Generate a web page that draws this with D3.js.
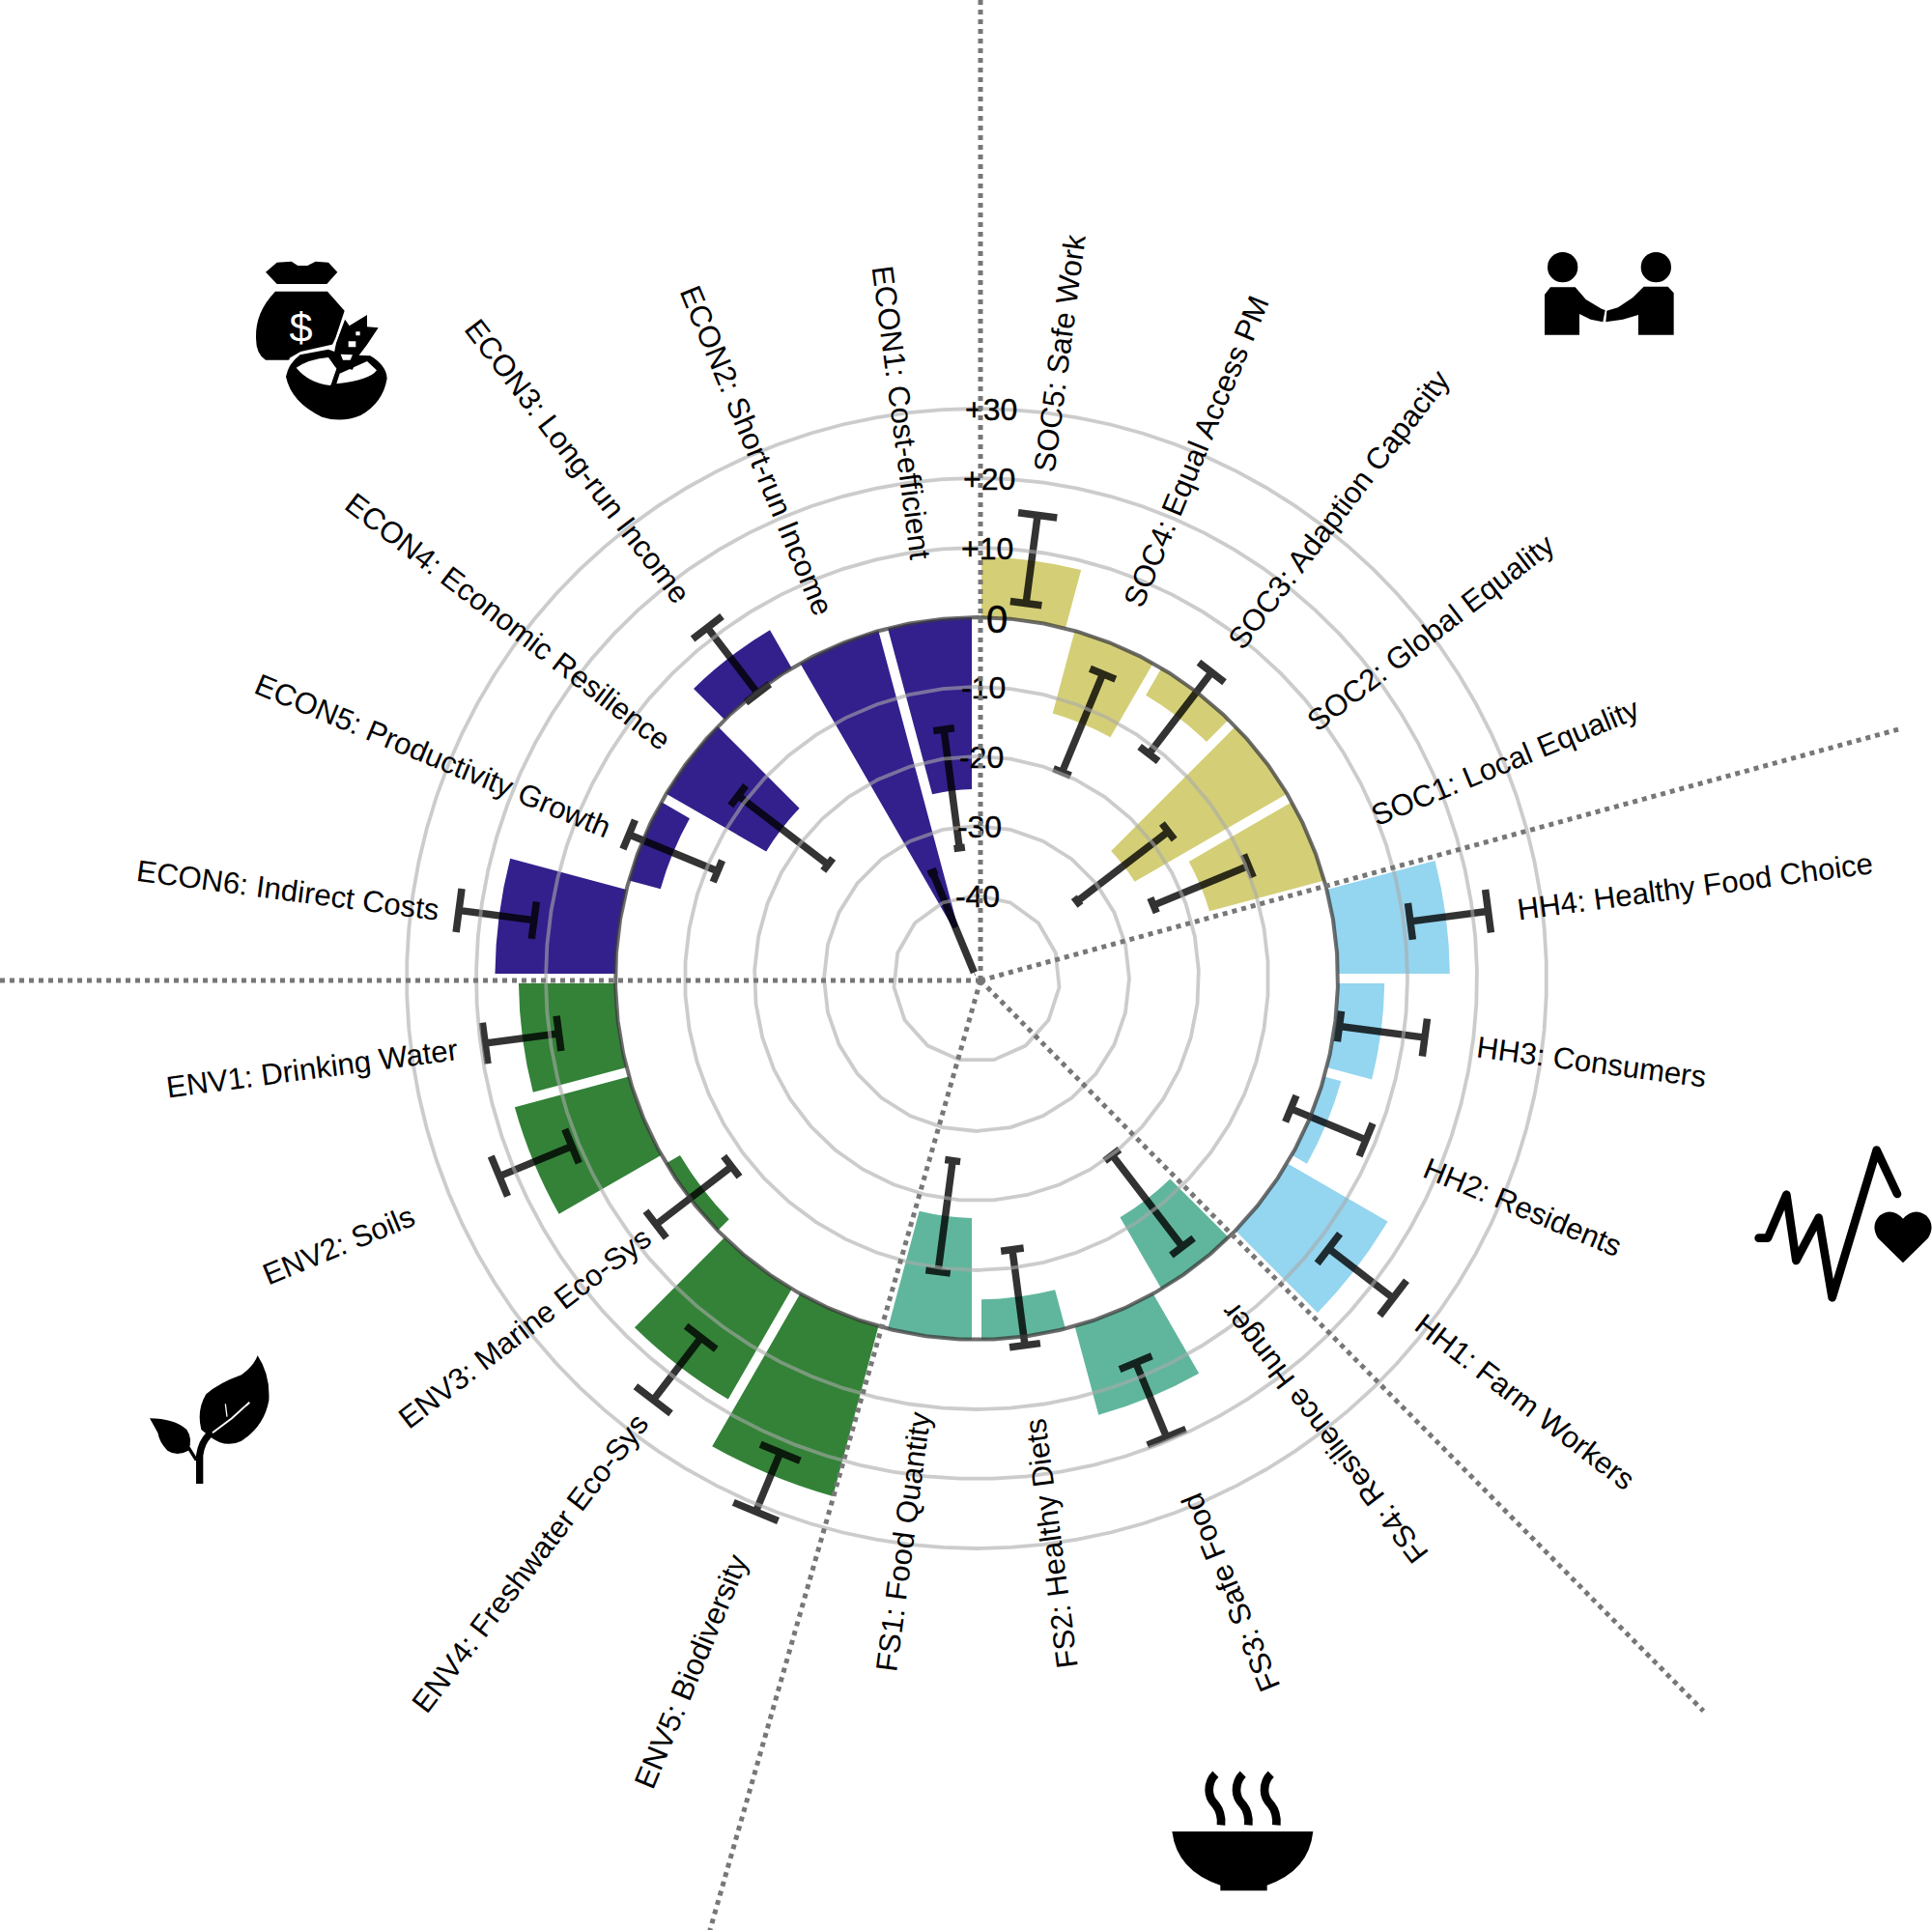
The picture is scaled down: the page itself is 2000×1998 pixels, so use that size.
<!DOCTYPE html>
<html>
  <head>
    <meta charset="utf-8">
    <title>Circular bar chart</title>
    <style>
      body { margin: 0; background: #fff; }
      text { font-family: "Liberation Sans", Arial, sans-serif; fill: #000; }
    </style>
  </head>
  <body>
    <div id="vis"></div>
    <script src="https://d3js.org/d3.v7.min.js"></script>
    <script>
    // clockwise from the top
    let categories = ["SOC5: Safe Work", "SOC4: Equal Access PM", "SOC3: Adaption Capacity", "SOC2: Global Equality", "SOC1: Local Equality",
      "HH4: Healthy Food Choice", "HH3: Consumers", "HH2: Residents", "HH1: Farm Workers",
      "FS4: Resilience Hunger", "FS3: Safe Food", "FS2: Healthy Diets", "FS1: Food Quantity",
      "ENV5: Biodiversity", "ENV4: Freshwater Eco-Sys", "ENV3: Marine Eco-Sys", "ENV2: Soils", "ENV1: Drinking Water",
      "ECON6: Indirect Costs", "ECON5: Productivity Growth", "ECON4: Economic Resilience", "ECON3: Long-run Income", "ECON2: Short-run Income", "ECON1: Cost-efficient"];
    let groups = ["SOC", "SOC", "SOC", "SOC", "SOC", "HH", "HH", "HH", "HH", "FS", "FS", "FS", "FS",
      "ENV", "ENV", "ENV", "ENV", "ENV", "ECON", "ECON", "ECON", "ECON", "ECON", "ECON"];
    let values = [8.7, -12.3, -4.5, -25.3, -17.1, 16.1, 6.7, 2.5, 16.7, -11.9, 13.2, -5.8, -17.5,
      25.3, 18.3, -2.3, 17, 13.9, 17.3, -4.7, -16.6, 6.3, -44, -24.7];
    let errLow = [2.5, -19.8, -11.2, -33.7, -24.4, 11, 0.7, -3, 11.9, -19.9, 7.9, -12.6, -25.5,
      21.9, 13.2, -7.5, 11.1, 8.7, 12.3, -11.6, -25, -0.2, -51, -33];
    let errHigh = [15.3, -4.5, 3.6, -17.2, -9.6, 22.3, 13.1, 8.7, 23.6, -3.3, 19.5, 1.3, -9.4,
      31.1, 24.5, 6.2, 22.4, 19.4, 23.2, 2.2, -8.7, 11.7, -35.4, -15.8];
    let tickValues = [-40, -30, -20, -10, 0, 10, 20, 30];
    let tickLabels = ["-40", "-30", "-20", "-10", "0", "+10", "+20", "+30"];
    let groupNames = ["SOC", "HH", "FS", "ENV", "ECON"];
    let groupColors = ["#d4cf77", "#94d5ef", "#60b69d", "#338238", "#33208c"];
    let dividerAngles = [0, 74.7, 135.3, 195.9, 270];
    let dividerLengths = [1015, 988, 1064, 1030, 1015];
    // where each category label sits, px from the centre
    let labelRadius = [655, 593, 615, 592, 592, 750, 642, 612, 716, 591, 686, 588, 586,
      774, 760, 590, 715, 694, 719, 609, 611, 678, 594, 593];

    let w = 2000, h = 1998;
    // the rings and the dividers do not share a centre in the original
    let cx = 1011, cy = 1013;
    let lx = 1015, ly = 1015;
    let step = 2 * Math.PI / categories.length;

    let r = d3.scaleLinear().domain([-50, 30]).range([14, 590]);
    let color = d3.scaleOrdinal().domain(groupNames).range(groupColors);

    let svg = d3.select("#vis").append("svg")
                .attr("width", w)
                .attr("height", h);
    let g = svg.append("g").attr("transform", "translate(" + cx + "," + cy + ")");
    let over = svg.append("g").attr("transform", "translate(" + lx + "," + ly + ")");
    let labels = svg.append("g").attr("transform", "translate(" + cx + "," + ly + ")");

    function rad(deg) { return deg * Math.PI / 180; }
    function polar(a, radius) { return [radius * Math.sin(a), -radius * Math.cos(a)]; }

    // bars, the gap stays the same width all the way in
    let arc = d3.arc()
      .innerRadius(function(d) { return r(Math.min(d.v, 0)); })
      .outerRadius(function(d) { return r(Math.max(d.v, 0)); })
      .startAngle(function(d) { return d.i * step; })
      .endAngle(function(d) { return (d.i + 1) * step; })
      .padAngle(0.02)
      .padRadius(500);

    let rows = values.map(function(v, i) { return { v: v, i: i, lo: errLow[i], hi: errHigh[i] }; });

    g.selectAll("path.bar").data(rows).enter().append("path")
      .attr("class", "bar")
      .attr("d", arc)
      .attr("fill", function(d) { return color(groups[d.i]); });

    // error bars
    let capHalf = rad(2.4);
    g.selectAll("path.err").data(rows).enter().append("path")
      .attr("class", "err")
      .attr("fill", "none")
      .attr("stroke", "#000")
      .attr("stroke-opacity", 0.8)
      .attr("stroke-width", 7.5)
      .attr("d", function(d) {
        let a = (d.i + 0.5) * step;
        let rl = r(d.lo), rh = r(d.hi);
        return "M" + polar(a, rl) + "L" + polar(a, rh)
          + "M" + polar(a - capHalf, rl) + "L" + polar(a + capHalf, rl)
          + "M" + polar(a - capHalf, rh) + "L" + polar(a + capHalf, rh);
      });

    // grid rings, sampled coarsely like the original so the small ones look polygonal
    let ringLine = d3.lineRadial().angle(function(d) { return d[0]; }).radius(function(d) { return d[1]; }).curve(d3.curveLinearClosed);
    g.selectAll("path.ring").data(tickValues).enter().append("path")
      .attr("class", "ring")
      .attr("fill", "none")
      .attr("stroke", function(d) { return d == 0 ? "#3c3c3c" : "#aaa"; })
      .attr("stroke-opacity", function(d) { return d == 0 ? 0.75 : 0.6; })
      .attr("stroke-width", function(d) { return d == 0 ? 4 : 3.8; })
      .attr("d", function(d) {
        let n = Math.round(2 * Math.PI * r(d) / 35);
        return ringLine(d3.range(n).map(function(k) { return [k * 2 * Math.PI / n, r(d)]; }));
      });

    // dotted sector lines
    over.selectAll("line.divider").data(dividerAngles).enter().append("line")
      .attr("class", "divider")
      .attr("x1", 0).attr("y1", 0)
      .attr("x2", function(d, i) { return polar(rad(d), dividerLengths[i])[0]; })
      .attr("y2", function(d, i) { return polar(rad(d), dividerLengths[i])[1]; })
      .attr("stroke", "#777")
      .attr("stroke-width", 5)
      .attr("stroke-dasharray", "5 5");

    // tick labels lean a little to the right going up
    g.selectAll("text.tick").data(tickValues).enter().append("text")
      .attr("class", "tick")
      .attr("text-anchor", "middle")
      .attr("dy", "0.36em")
      .attr("x", function(d) { return d == 0 ? 21 : 1 + 0.028 * (r(d) - 86); })
      .attr("y", function(d) { return -r(d) + (d == 0 ? 2 : 0); })
      .attr("font-size", function(d) { return d == 0 ? 40 : 32; })
      .style("stroke", "#000")
      .style("stroke-width", 0.4)
      .text(function(d, i) { return tickLabels[i]; });

    // category labels, read inward on the bottom and left half
    labels.selectAll("text.cat").data(categories).enter().append("text")
      .attr("class", "cat")
      .attr("text-anchor", "middle")
      .attr("dy", "0.36em")
      .attr("font-size", 31.2)
      .attr("transform", function(d, i) {
        let a = (i + 0.5) * step;
        let p = polar(a, labelRadius[i]);
        let deg = a * 180 / Math.PI - 90;
        if (i >= 9) deg += 180;
        return "translate(" + p[0] + "," + p[1] + ") rotate(" + deg + ")";
      })
      .text(function(d) { return d; });

    // icons, traced by hand at 3x
    let money = svg.append("g").attr("transform", "translate(240,250) scale(0.3333)");
    money.append("path").attr("d", "M105,95 L140,65 L185,62 L205,75 L235,75 L260,62 L300,65 L328,95 L295,132 L140,132 Z");
    money.append("path").attr("d", "M135,155 L297,155 L350,215 L322,300 L310,325 L215,345 L175,368 L105,368 Q75,350 75,300 Q72,220 135,155 Z");
    money.append("text").attr("x", 215).attr("y", 312).attr("text-anchor", "middle").attr("font-size", 130)
      .style("fill", "#fff").text("$");
    money.append("path").attr("d", "M168,420 Q175,380 212,352 L300,335 L345,352 L430,355 Q480,385 482,425 Q470,500 400,540 Q340,565 280,545 Q185,500 168,420 Z");
    money.append("path").attr("fill", "#fff").attr("d", "M200,392 Q240,365 300,360 L325,395 L305,447 Q240,440 200,392 Z M335,410 L420,372 L450,400 Q430,430 325,442 Z");
    money.append("path").attr("d", "M350,240 L365,262 L420,228 L420,265 L455,268 L420,320 L390,360 L375,398 L345,392 L318,345 L325,310 Z");
    money.append("path").attr("fill", "none").attr("stroke", "#fff").attr("stroke-width", 6)
      .attr("d", "M352,232 L318,322 L215,345 L180,365 M322,392 L305,445");
    money.append("path").attr("fill", "#fff").attr("d", "M385,280 L398,280 L398,292 L385,292 Z M362,310 L385,310 L385,328 L362,328 Z M338,350 L375,352 L368,368 L345,368 Z");

    let hands = svg.append("g").attr("transform", "translate(1580,240) scale(0.3333)");
    hands.append("circle").attr("cx", 113).attr("cy", 110).attr("r", 47);
    hands.append("circle").attr("cx", 403).attr("cy", 110).attr("r", 47);
    hands.append("path").attr("d", "M57,320 L57,195 L75,172 L152,172 L185,210 L235,240 L245,243 L238,280 L200,272 L165,255 L165,320 Z");
    hands.append("path").attr("d", "M458,320 L458,190 L440,170 L365,170 L330,205 L285,235 L250,245 L247,280 L300,272 L348,258 L348,320 Z");

    let pulse = svg.append("g").attr("transform", "translate(1800,1170) scale(0.3333)");
    pulse.append("path").attr("fill", "none").attr("stroke", "#000").attr("stroke-width", 26)
      .attr("stroke-linejoin", "round").attr("stroke-linecap", "round")
      .attr("d", "M62,335 L90,335 L148,200 L178,405 L248,272 L290,520 L428,62 L492,198");
    pulse.append("path").attr("d", "M510,412 L432,335 Q408,295 438,265 Q475,238 510,275 Q545,238 582,265 Q612,295 588,335 Z");

    let soup = svg.append("g").attr("transform", "translate(1200,1820) scale(0.3333)");
    soup.append("path").attr("d", "M40,228 L478,228 Q465,350 335,395 L335,412 L190,412 L190,395 Q55,350 40,228 Z");
    soup.selectAll("path.steam").data([0, 85, 172]).enter().append("path")
      .attr("class", "steam")
      .attr("fill", "none").attr("stroke", "#000").attr("stroke-width", 26)
      .attr("stroke-linecap", "butt")
      .attr("transform", function(d) { return "translate(" + d + ",0)"; })
      .attr("d", "M175,50 Q155,70 155,100 Q155,125 175,145 Q195,170 192,208");

    let leaf = svg.append("g").attr("transform", "translate(150,1400) scale(0.3333)");
    leaf.append("path").attr("d", "M350,10 Q390,70 385,150 Q370,230 300,275 Q250,300 200,260 L175,240 Q160,180 190,130 Q230,95 300,70 Q340,40 350,10 Z");
    leaf.append("path").attr("d", "M15,205 Q90,205 130,240 Q150,270 135,305 Q100,325 70,305 Q45,280 40,250 Z");
    leaf.append("path").attr("fill", "none").attr("stroke", "#000").attr("stroke-width", 22).attr("d", "M170,408 L170,320 Q175,280 200,255");
    leaf.append("path").attr("fill", "none").attr("stroke", "#000").attr("stroke-width", 10).attr("d", "M135,295 L160,335");
    leaf.append("path").attr("fill", "none").attr("stroke", "#fff").attr("stroke-width", 6).attr("d", "M210,250 L270,205 L325,155");
    leaf.append("path").attr("fill", "none").attr("stroke", "#fff").attr("stroke-width", 4).attr("d", "M250,160 L255,200");
    </script>
  </body>
</html>
